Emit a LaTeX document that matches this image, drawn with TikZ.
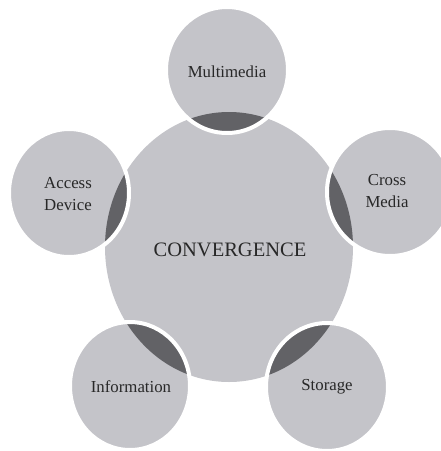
\documentclass[tikz,border=0pt]{standalone}
\usepackage{fontspec}
\setmainfont{Liberation Serif}
\definecolor{lightg}{RGB}{196,196,201}
\definecolor{darkg}{RGB}{98,98,102}
\definecolor{txt}{RGB}{40,40,40}
\begin{document}
\begin{tikzpicture}[x=1pt,y=-1pt,
  lab/.style={text=txt,font=\fontsize{16.8}{22}\selectfont,align=center,inner sep=0pt},
  biglab/.style={text=txt,font=\fontsize{20.5}{24}\selectfont,inner sep=0pt},
  gap/.style={white,line width=4}]
\useasboundingbox[fill=white] (0,0) rectangle (441,451);
% central circle
\fill[lightg] (229,247) ellipse [x radius=124, y radius=135];
% outer circles
\foreach \cx/\cy/\rx/\ry in {227/70/61/63, 390/192/63/64, 69/193/60/64, 130/386/60/64, 327/387/61/64}{
  \fill[lightg] (\cx,\cy) ellipse [x radius=\rx, y radius=\ry];
  \begin{scope}
    \clip (\cx,\cy) ellipse [x radius=\rx, y radius=\ry];
    \fill[darkg] (229,247) ellipse [x radius=124, y radius=135];
  \end{scope}
  \draw[gap] (\cx,\cy) ellipse [x radius=\rx, y radius=\ry];
}
% labels
\node[biglab] (conv) at (230,250) {CONVERGENCE};
\node[lab] (multi) at (227,72) {Multimedia};
\node[lab] (cross) at (387,191) {Cross\\Media};
\node[lab] (access) at (68,194) {Access\\Device};
\node[lab] (info) at (131,387) {Information};
\node[lab] (stor) at (327,387) {Storage};
\end{tikzpicture}
\end{document}
